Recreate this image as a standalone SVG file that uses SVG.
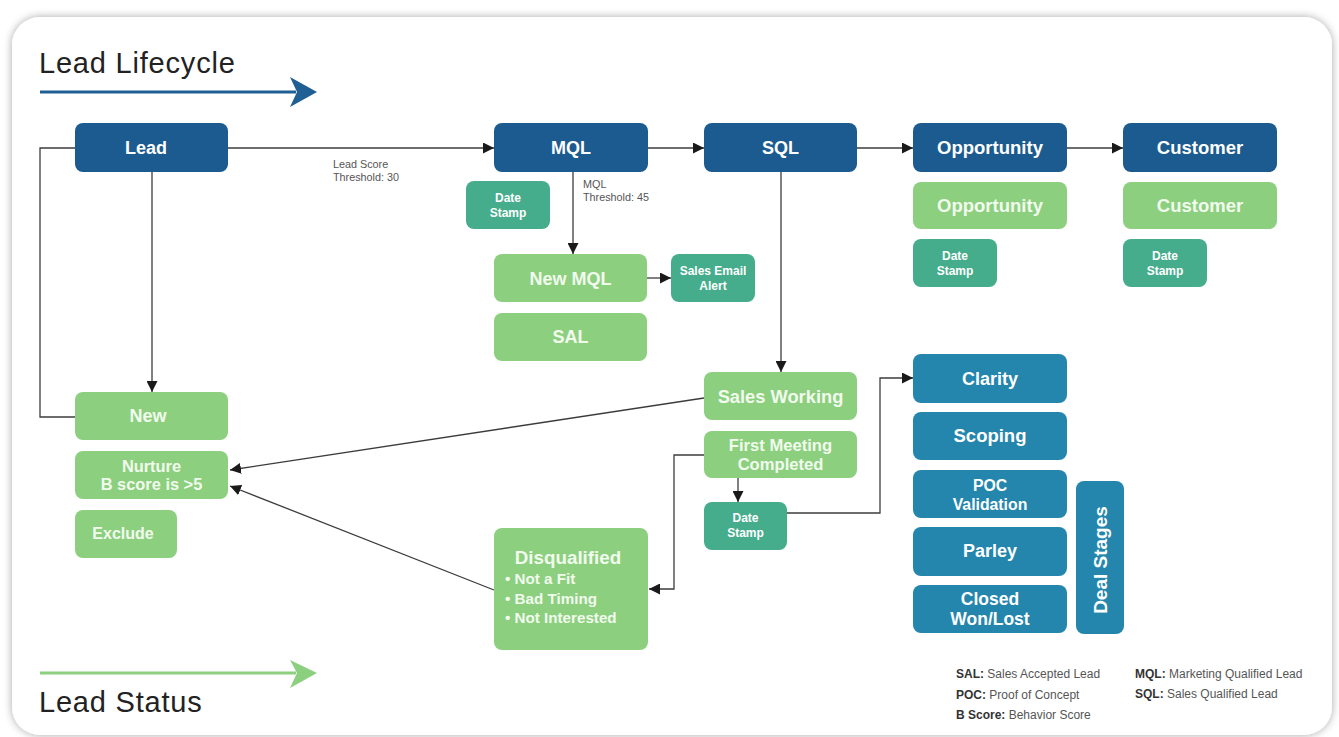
<svg xmlns="http://www.w3.org/2000/svg" width="1339" height="737" viewBox="0 0 1339 737">
  <defs>
    <filter id="cardShadow" x="-5%" y="-5%" width="110%" height="110%">
      <feDropShadow dx="0" dy="0" stdDeviation="4" flood-color="#000" flood-opacity="0.35"/>
    </filter>
    <marker id="arrow" viewBox="0 0 10 10" refX="10" refY="5" markerWidth="11" markerHeight="11" markerUnits="userSpaceOnUse" orient="auto">
      <path d="M0,0 L10,5 L0,10 z" fill="#1a1a1a"/>
    </marker>
    <style>
      .life { fill: #1b5b8f; }
      .status { fill: #8ccf7e; }
      .stamp { fill: #45ac8c; }
      .deal { fill: #2486ad; }
      .lbl { font-family: "Liberation Sans", Arial, sans-serif; font-weight: bold; text-anchor: middle; }
      .w { fill: #ffffff; }
      .g { fill: #f1fbee; }
      .note { font-family: "Liberation Sans", Arial, sans-serif; font-size: 10.8px; fill: #555; }
      .title { font-family: "Liberation Sans", Arial, sans-serif; font-size: 29px; letter-spacing: 0.8px; fill: #222; }
      .legend { font-family: "Liberation Sans", Arial, sans-serif; font-size: 12px; fill: #555; }
      .legend tspan.k { font-weight: bold; fill: #333; }
      .conn { fill: none; stroke: #3c3c3c; stroke-width: 1.3; }
    </style>
  </defs>

  <!-- page and card -->
  <rect x="0" y="0" width="1339" height="737" fill="#ffffff"/>
  <rect x="12" y="17" width="1320" height="718" rx="28" fill="#ffffff" filter="url(#cardShadow)"/>

  <!-- section headers -->
  <g id="header-lifecycle">
    <text class="title" x="39" y="73">Lead Lifecycle</text>
    <line x1="40" y1="92" x2="296" y2="92" stroke="#1f5f94" stroke-width="3"/>
    <path d="M290,77 L317,92 L290,107 L297,92 z" fill="#1f5f94"/>
  </g>
  <g id="header-status">
    <line x1="40" y1="673" x2="296" y2="673" stroke="#8ccf7e" stroke-width="3"/>
    <path d="M290,660 L317,673 L290,688 L297,673 z" fill="#8ccf7e"/>
    <text class="title" x="39" y="712">Lead Status</text>
  </g>

  <!-- connectors -->
  <g id="connectors">
    <path class="conn" d="M75,148 H40 V417 H75"/>
    <path class="conn" d="M228,148 H494" marker-end="url(#arrow)"/>
    <path class="conn" d="M152,172 V392" marker-end="url(#arrow)"/>
    <path class="conn" d="M648,148 H704" marker-end="url(#arrow)"/>
    <path class="conn" d="M857,148 H913" marker-end="url(#arrow)"/>
    <path class="conn" d="M1067,148 H1123" marker-end="url(#arrow)"/>
    <path class="conn" d="M573,172 V254" marker-end="url(#arrow)"/>
    <path class="conn" d="M647,278 H671" marker-end="url(#arrow)"/>
    <path class="conn" d="M781,172 V372" marker-end="url(#arrow)"/>
    <path class="conn" d="M704,398 L230,470" marker-end="url(#arrow)"/>
    <path class="conn" d="M494,590 L230,486" marker-end="url(#arrow)"/>
    <path class="conn" d="M738,478 V502" marker-end="url(#arrow)"/>
    <path class="conn" d="M704,455 H674 V589 H649" marker-end="url(#arrow)"/>
    <path class="conn" d="M787,513 H880 V378 H913" marker-end="url(#arrow)"/>
    <text class="note" x="333" y="168">Lead Score</text>
    <text class="note" x="333" y="181">Threshold: 30</text>
    <text class="note" x="583" y="188">MQL</text>
    <text class="note" x="583" y="201">Threshold: 45</text>
  </g>

  <!-- lifecycle stages -->
  <g id="lead">
    <rect class="life" x="75" y="123" width="153" height="49" rx="8"/>
    <text class="lbl w" x="146" y="154" font-size="18">Lead</text>
  </g>
  <g id="mql">
    <rect class="life" x="494" y="123" width="154" height="49" rx="8"/>
    <text class="lbl w" x="571" y="154" font-size="18">MQL</text>
  </g>
  <g id="sql">
    <rect class="life" x="704" y="123" width="153" height="49" rx="8"/>
    <text class="lbl w" x="780.5" y="154" font-size="18">SQL</text>
  </g>
  <g id="opportunity">
    <rect class="life" x="913" y="123" width="154" height="49" rx="8"/>
    <text class="lbl w" x="990" y="154" font-size="18.5">Opportunity</text>
  </g>
  <g id="customer">
    <rect class="life" x="1123" y="123" width="154" height="49" rx="8"/>
    <text class="lbl w" x="1200" y="154" font-size="18.5">Customer</text>
  </g>

  <!-- status and stamp boxes -->
  <g id="mql-date-stamp">
    <rect class="stamp" x="466" y="181" width="84" height="48" rx="8"/>
    <text class="lbl w" x="508" y="202" font-size="12">Date</text>
    <text class="lbl w" x="508" y="217" font-size="12">Stamp</text>
  </g>
  <g id="new-mql">
    <rect class="status" x="494" y="254" width="153" height="48" rx="8"/>
    <text class="lbl g" x="570.5" y="285" font-size="18">New MQL</text>
  </g>
  <g id="sales-email-alert">
    <rect class="stamp" x="671" y="254" width="84" height="48" rx="8"/>
    <text class="lbl w" x="713" y="275" font-size="12">Sales Email</text>
    <text class="lbl w" x="713" y="290" font-size="12">Alert</text>
  </g>
  <g id="sal">
    <rect class="status" x="494" y="313" width="153" height="48" rx="8"/>
    <text class="lbl g" x="570.5" y="343" font-size="18">SAL</text>
  </g>
  <g id="opportunity-status">
    <rect class="status" x="913" y="182" width="154" height="47" rx="8"/>
    <text class="lbl g" x="990" y="212" font-size="18.5">Opportunity</text>
  </g>
  <g id="opportunity-date-stamp">
    <rect class="stamp" x="913" y="239" width="84" height="48" rx="8"/>
    <text class="lbl w" x="955" y="260" font-size="12">Date</text>
    <text class="lbl w" x="955" y="275" font-size="12">Stamp</text>
  </g>
  <g id="customer-status">
    <rect class="status" x="1123" y="182" width="154" height="47" rx="8"/>
    <text class="lbl g" x="1200" y="212" font-size="18.5">Customer</text>
  </g>
  <g id="customer-date-stamp">
    <rect class="stamp" x="1123" y="239" width="84" height="48" rx="8"/>
    <text class="lbl w" x="1165" y="260" font-size="12">Date</text>
    <text class="lbl w" x="1165" y="275" font-size="12">Stamp</text>
  </g>

  <g id="new">
    <rect class="status" x="75" y="392" width="153" height="48" rx="8"/>
    <text class="lbl g" x="148" y="422" font-size="18">New</text>
  </g>
  <g id="nurture">
    <rect class="status" x="75" y="451" width="153" height="48" rx="8"/>
    <text class="lbl g" x="151.5" y="472" font-size="16.4">Nurture</text>
    <text class="lbl g" x="151.5" y="490" font-size="16.4">B score is &gt;5</text>
  </g>
  <g id="exclude">
    <rect class="status" x="75" y="510" width="102" height="48" rx="8"/>
    <text class="lbl g" x="123" y="539" font-size="16">Exclude</text>
  </g>

  <g id="sales-working">
    <rect class="status" x="704" y="372" width="153" height="48" rx="8"/>
    <text class="lbl g" x="780.5" y="403" font-size="18.3">Sales Working</text>
  </g>
  <g id="first-meeting">
    <rect class="status" x="704" y="431" width="153" height="47" rx="8"/>
    <text class="lbl g" x="780.5" y="451" font-size="16.6">First Meeting</text>
    <text class="lbl g" x="780.5" y="470" font-size="16.6">Completed</text>
  </g>
  <g id="meeting-date-stamp">
    <rect class="stamp" x="704" y="502" width="83" height="48" rx="8"/>
    <text class="lbl w" x="745.5" y="522" font-size="12">Date</text>
    <text class="lbl w" x="745.5" y="537" font-size="12">Stamp</text>
  </g>
  <g id="disqualified">
    <rect class="status" x="494" y="528" width="154" height="122" rx="8"/>
    <text class="lbl g" x="568" y="564" font-size="18.8">Disqualified</text>
    <g font-family="Liberation Sans, Arial, sans-serif" font-weight="bold" font-size="15.2" fill="#f1fbee">
      <text x="505" y="584">• Not a Fit</text>
      <text x="505" y="604">• Bad Timing</text>
      <text x="505" y="623">• Not Interested</text>
    </g>
  </g>

  <!-- deal stages -->
  <g id="clarity">
    <rect class="deal" x="913" y="354" width="154" height="49" rx="8"/>
    <text class="lbl w" x="990" y="385" font-size="18">Clarity</text>
  </g>
  <g id="scoping">
    <rect class="deal" x="913" y="412" width="154" height="48" rx="8"/>
    <text class="lbl w" x="990" y="442" font-size="18.5">Scoping</text>
  </g>
  <g id="poc-validation">
    <rect class="deal" x="913" y="470" width="154" height="48" rx="8"/>
    <text class="lbl w" x="990" y="491" font-size="15.8">POC</text>
    <text class="lbl w" x="990" y="510" font-size="15.8">Validation</text>
  </g>
  <g id="parley">
    <rect class="deal" x="913" y="527" width="154" height="49" rx="8"/>
    <text class="lbl w" x="990" y="557" font-size="18">Parley</text>
  </g>
  <g id="closed">
    <rect class="deal" x="913" y="585" width="154" height="48" rx="8"/>
    <text class="lbl w" x="990" y="605" font-size="17.5">Closed</text>
    <text class="lbl w" x="990" y="625" font-size="17.5">Won/Lost</text>
  </g>
  <g id="deal-stages">
    <rect class="deal" x="1076" y="481" width="48" height="153" rx="8"/>
    <text class="lbl w" x="0" y="0" font-size="19" transform="translate(1107,560) rotate(-90)">Deal Stages</text>
  </g>

  <!-- legend -->
  <g id="legend">
    <text class="legend" x="956" y="678"><tspan class="k">SAL:</tspan> Sales Accepted Lead</text>
    <text class="legend" x="956" y="699"><tspan class="k">POC:</tspan> Proof of Concept</text>
    <text class="legend" x="956" y="719"><tspan class="k">B Score:</tspan> Behavior Score</text>
    <text class="legend" x="1135" y="678"><tspan class="k">MQL:</tspan> Marketing Qualified Lead</text>
    <text class="legend" x="1135" y="698"><tspan class="k">SQL:</tspan> Sales Qualified Lead</text>
  </g>
</svg>
